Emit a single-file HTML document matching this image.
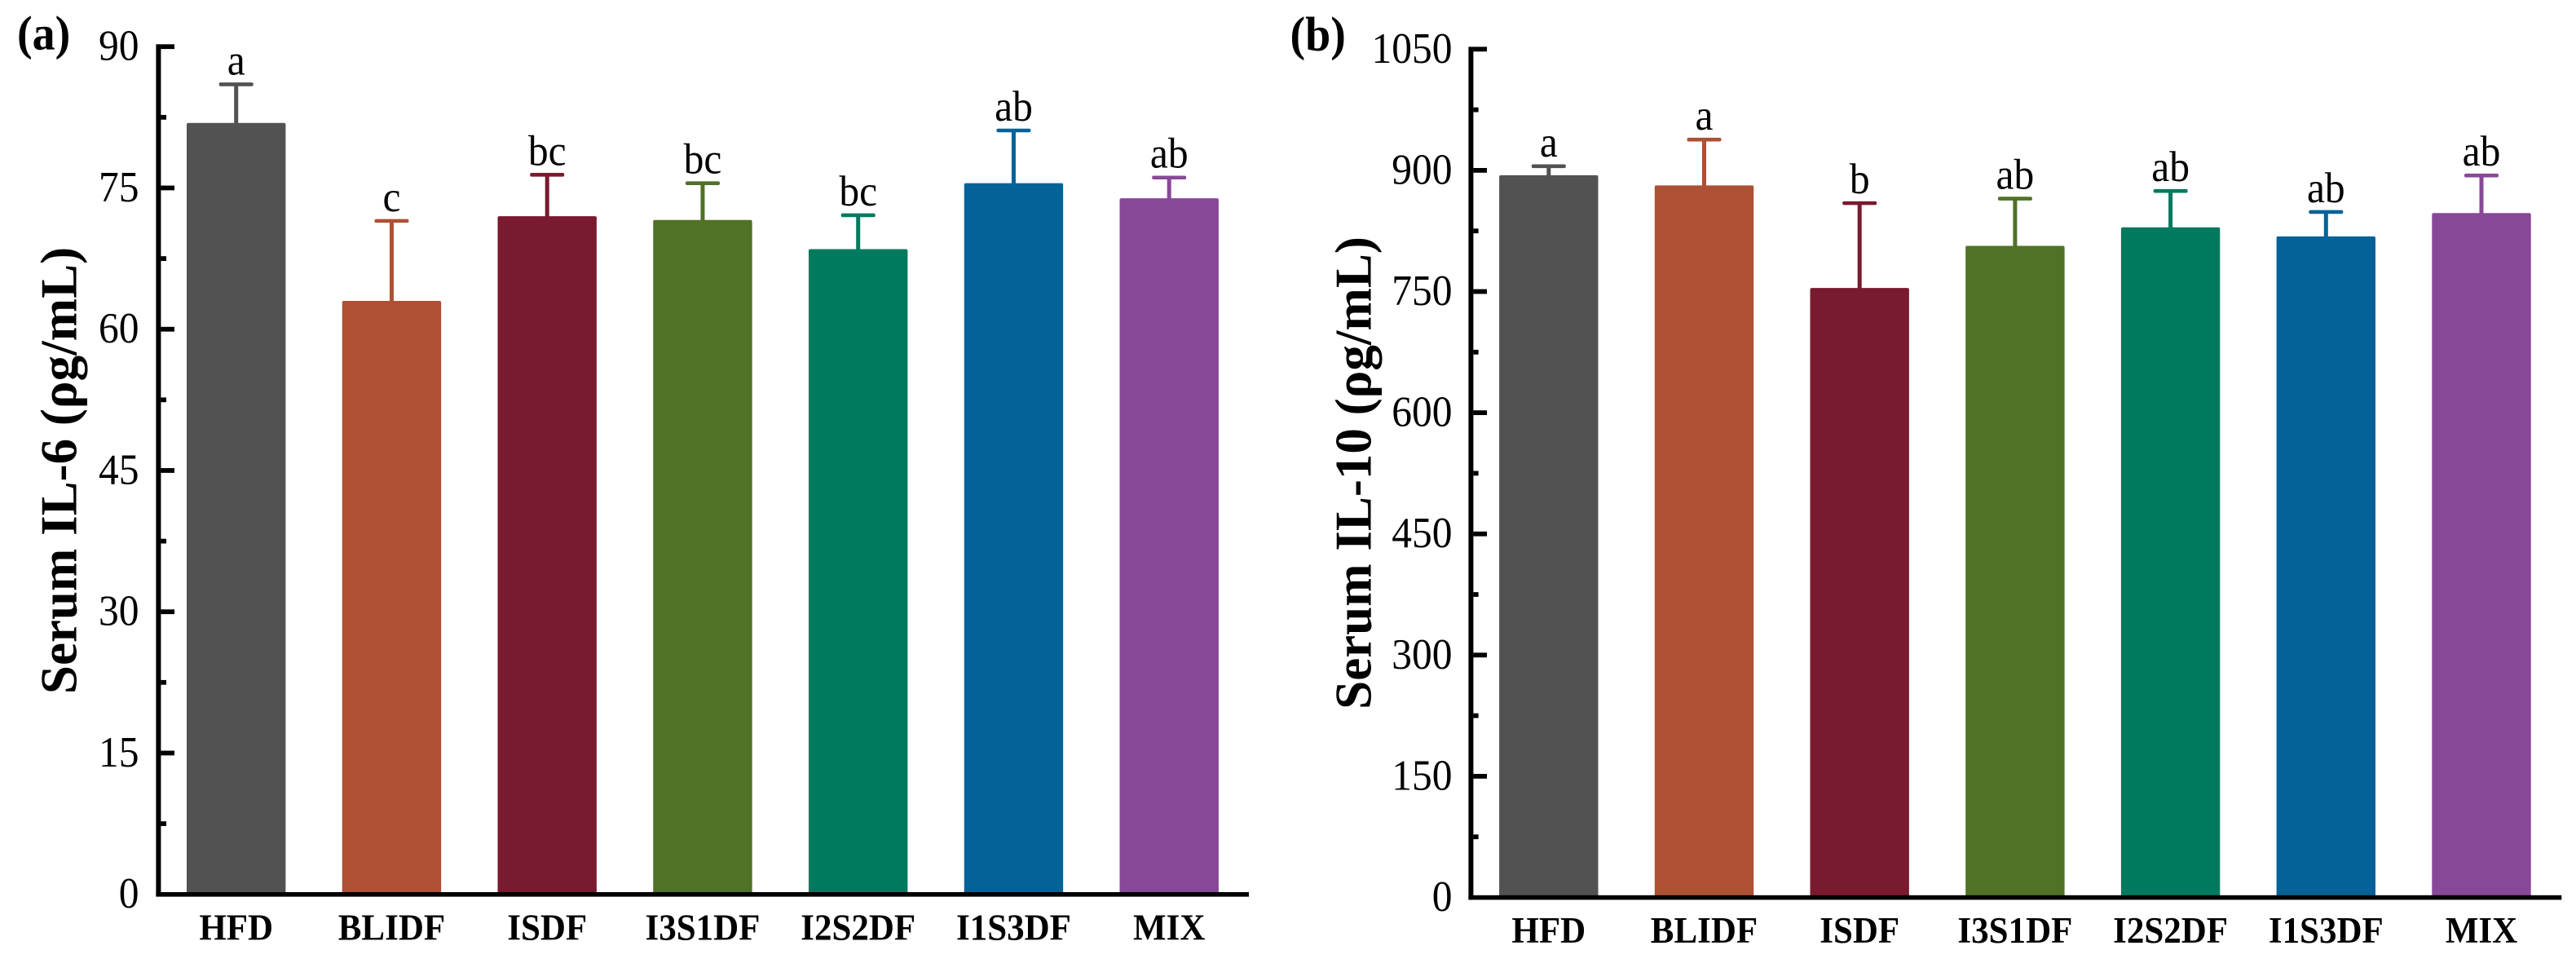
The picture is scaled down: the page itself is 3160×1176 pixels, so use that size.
<!DOCTYPE html>
<html lang="en">
<head>
<meta charset="utf-8">
<title>Serum IL-6 and IL-10</title>
<style>
html,body{margin:0;padding:0;background:#fff;}
body{width:3160px;height:1176px;overflow:hidden;}
svg{display:block;}
text{font-family:"Liberation Serif",serif;fill:#000;}
</style>
</head>
<body>
<svg id="figure" xmlns="http://www.w3.org/2000/svg" width="3160" height="1176" viewBox="0 0 3160 1176">
  <rect width="3160" height="1176" fill="#ffffff"/>
</svg>
<script>
const categories = ['HFD', 'BLIDF', 'ISDF', 'I3S1DF', 'I2S2DF', 'I1S3DF', 'MIX'];

const il6Means = [81.9, 63.0, 72.0, 71.6, 68.5, 75.5, 73.9];
const il6Errors = [4.1, 8.5, 4.4, 3.9, 3.6, 5.6, 2.2];
const il6Letters = ['a', 'c', 'bc', 'bc', 'bc', 'ab', 'ab'];
const il6Ticks = [0, 15, 30, 45, 60, 75, 90];

const il10Means = [894, 881.3, 754.4, 806.5, 829.5, 818.2, 847.2];
const il10Errors = [11.1, 56.8, 105, 58.5, 45, 30.3, 46.5];
const il10Letters = ['a', 'a', 'b', 'ab', 'ab', 'ab', 'ab'];
const il10Ticks = [0, 150, 300, 450, 600, 750, 900, 1050];

const barColors = ['#525252', '#ad5033', '#7a1a2e', '#4f7226', '#007a5e', '#056298', '#884898'];

const NS = 'http://www.w3.org/2000/svg';
const figure = document.getElementById('figure');

function make(tag, parent, attrs, text) {
  const el = document.createElementNS(NS, tag);
  for (const k in attrs) el.setAttribute(k, attrs[k]);
  if (text !== undefined) el.textContent = text;
  parent.appendChild(el);
  return el;
}

function placed(px, py, sy) {
  return 'translate(' + px + ' ' + py + ') scale(1 ' + sy + ')';
}

function drawPanel(p) {
  const group = make('g', figure, {});
  
  

  const domainMax = p.ticks[p.ticks.length - 1];
  const y = v => p.y0 - (v / domainMax) * (p.y0 - p.yTop);
  const x = i => p.firstCenter + i * p.step;

  // bars and error bars
  categories.forEach((name, i) => {
    const top = y(p.means[i]);
    const errTop = y(p.means[i] + p.errors[i]);
    const color = barColors[i];

    const stem = make('rect', group, {x: x(i) - 2.5, y: errTop, width: 5, height: top - errTop + 1, fill: color});
    
    

    const cap = make('rect', group, {x: x(i) - 21, y: errTop - 2.3, width: 42, height: 4.6, rx: 2, fill: color});
    
    

    const bar = make('path', group, {
      d: 'M' + (x(i) - 60.7) + ' ' + p.y0 + 'V' + (top + 2) + 'Q' + (x(i) - 60.7) + ' ' + top + ' ' + (x(i) - 58.7) + ' ' + top +
         'H' + (x(i) + 58.7) + 'Q' + (x(i) + 60.7) + ' ' + top + ' ' + (x(i) + 60.7) + ' ' + (top + 2) + 'V' + p.y0 + 'Z',
      fill: color
    });
    
    

    const letter = make('text', group, {transform: placed(x(i), errTop - 12, 1.08), 'font-size': 49.5, 'text-anchor': 'middle'}, p.letters[i]);
    
    

    const catLabel = make('text', group, {transform: placed(x(i), p.catBaseline, 1.05), 'font-size': 43, 'font-weight': 700, 'text-anchor': 'middle'}, name);
    
    
  });

  // y axis ticks
  p.ticks.forEach((t, i) => {
    if (t !== 0) {
      const tick = make('rect', group, {x: p.axisX, y: y(t) - 2.9, width: p.majorEnd - p.axisX, height: 5.8, fill: '#000'});
      
      
    }
    if (i < p.ticks.length - 1) {
      const mid = (t + p.ticks[i + 1]) / 2;
      const minor = make('rect', group, {x: p.axisX, y: y(mid) - 2.9, width: p.minorEnd - p.axisX, height: 5.8, fill: '#000'});
      
      
    }
    const label = make('text', group, {transform: placed(p.labelRight, y(t) + 16.5, 1.07), 'font-size': 49.5, 'text-anchor': 'end'}, String(t));
    
    
  });

  // axis lines
  const yAxis = make('rect', group, {x: p.axisX - 6, y: y(domainMax) - 2.9, width: 6, height: p.y0 - y(domainMax) + 5.6, fill: '#000'});
  
  

  const xAxis = make('rect', group, {x: p.axisX - 6, y: p.y0 - 2.7, width: p.xEnd - p.axisX + 6, height: 5.6, fill: '#000'});
  
  

  // axis title
  const title = make('text', group, {
    x: 0, y: 0, 'font-size': 63, 'font-weight': 700, 'text-anchor': 'middle',
    transform: 'translate(' + p.titleX + ' ' + p.titleY + ') rotate(-90)'
  }, p.title);
  
  

  // panel letter
  const tag = make('text', group, {transform: placed(p.tagX, p.tagY, 1.05), 'font-size': 56, 'font-weight': 700}, p.tag);
  
  
}

drawPanel({
  id: 'il6', title: 'Serum IL-6 (\u03c1g/mL)', tag: '(a)',
  means: il6Means, errors: il6Errors, letters: il6Letters, ticks: il6Ticks,
  axisX: 197.4, y0: 1096.7, yTop: 57.2, xEnd: 1532, majorEnd: 214, minorEnd: 204,
  firstCenter: 289.7, step: 190.75, labelRight: 170.5, catBaseline: 1152.7,
  titleX: 93.3, titleY: 577, tagX: 21, tagY: 60.5
});

drawPanel({
  id: 'il10', title: 'Serum IL-10 (\u03c1g/mL)', tag: '(b)',
  means: il10Means, errors: il10Errors, letters: il10Letters, ticks: il10Ticks,
  axisX: 1807.4, y0: 1100.5, yTop: 60.3, xEnd: 3142.3, majorEnd: 1824, minorEnd: 1813.6,
  firstCenter: 1899.8, step: 190.7, labelRight: 1781.5, catBaseline: 1156,
  titleX: 1681.7, titleY: 580, tagX: 1582.5, tagY: 61.7
});
</script>
</body>
</html>
